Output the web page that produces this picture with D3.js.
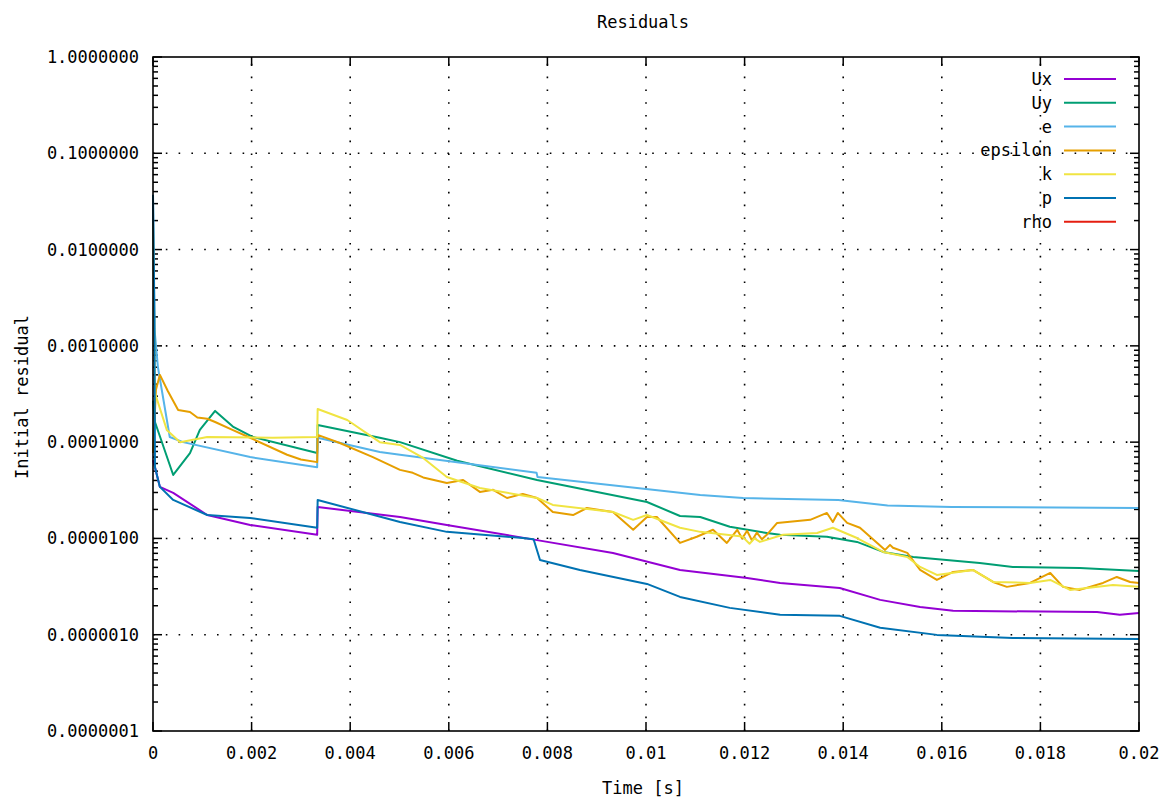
<!DOCTYPE html>
<html lang="en">
<head>
  <meta charset="UTF-8">
  <title>Residuals</title>
  <script src="https://d3js.org/d3.v7.min.js"></script>
  <style>
    body { margin: 0; background: #fff; }
    text { font-family: "DejaVu Sans Mono", "Liberation Mono", monospace; font-size: 17px; fill: #000; }
  </style>
</head>
<body>
  <svg id="chart" width="1173" height="800"></svg>

  <script>
    // time [s], initial residual
    const Ux = [[0, 6.5e-5], [0.00004, 5.5e-5], [0.00014, 3.43e-5], [0.00041, 2.97e-5], [0.0011, 1.75e-5],
      [0.00197, 1.38e-5], [0.00333, 1.09e-5], [0.00334, 2.12e-5], [0.00501, 1.67e-5], [0.00596, 1.38e-5],
      [0.00779, 9.6e-6], [0.00933, 7.07e-6], [0.01069, 4.71e-6], [0.01205, 3.89e-6], [0.01272, 3.45e-6],
      [0.01393, 3.06e-6], [0.01475, 2.3e-6], [0.01556, 1.94e-6], [0.01623, 1.77e-6], [0.01915, 1.72e-6],
      [0.01961, 1.61e-6], [0.02, 1.68e-6]];
    const Uy = [[0, 2.7e-4], [0.00004, 1.62e-4], [0.00041, 4.56e-5], [0.00075, 7.7e-5], [0.00095, 1.34e-4],
      [0.00126, 2.11e-4], [0.00162, 1.45e-4], [0.00203, 1.13e-4], [0.00333, 7.7e-5], [0.00334, 1.51e-4],
      [0.0046, 1.11e-4], [0.00501, 1.0e-4], [0.00617, 6.4e-5], [0.00779, 4.05e-5], [0.01002, 2.39e-5],
      [0.01069, 1.71e-5], [0.0111, 1.67e-5], [0.0117, 1.32e-5], [0.01245, 1.14e-5], [0.01272, 1.09e-5],
      [0.01367, 1.04e-5], [0.01428, 9.2e-6], [0.01481, 7.24e-6], [0.01542, 6.42e-6], [0.01677, 5.57e-6],
      [0.01744, 5.06e-6], [0.0188, 4.94e-6], [0.02, 4.6e-6]];
    const e = [[0, 0.033], [0.00003, 1.5e-3], [0.0001, 6.0e-4], [0.00034, 1.13e-4], [0.00061, 1.0e-4],
      [0.00197, 7.0e-5], [0.00333, 5.5e-5], [0.00334, 1.11e-4], [0.0046, 7.9e-5], [0.00501, 7.4e-5],
      [0.00778, 4.8e-5], [0.0078, 4.35e-5], [0.0111, 2.83e-5], [0.01197, 2.63e-5], [0.0139, 2.51e-5],
      [0.0149, 2.2e-5], [0.0162, 2.12e-5], [0.02, 2.07e-5]];
    const epsilon = [[0, 7.7e-5], [0.00006, 3.5e-4], [0.00014, 5.0e-4], [0.0003, 3.4e-4], [0.00051, 2.16e-4],
      [0.00075, 2.06e-4], [0.0009, 1.8e-4], [0.0011, 1.75e-4], [0.00126, 1.62e-4], [0.0016, 1.35e-4],
      [0.00197, 1.11e-4], [0.00272, 7.4e-5], [0.003, 6.6e-5], [0.00333, 6.2e-5], [0.00334, 1.19e-4],
      [0.00379, 9.8e-5], [0.00446, 7.0e-5], [0.00501, 5.15e-5], [0.00527, 4.8e-5], [0.00548, 4.3e-5],
      [0.00596, 3.77e-5], [0.00629, 4.05e-5], [0.00663, 3.04e-5], [0.0069, 3.2e-5], [0.00718, 2.63e-5],
      [0.0075, 2.9e-5], [0.00779, 2.63e-5], [0.00811, 1.88e-5], [0.00852, 1.75e-5], [0.0088, 2.07e-5],
      [0.00933, 1.88e-5], [0.00974, 1.23e-5], [0.01002, 1.67e-5], [0.01022, 1.67e-5], [0.01069, 8.98e-6],
      [0.01103, 1.04e-5], [0.01136, 1.23e-5], [0.01164, 8.98e-6], [0.01185, 1.23e-5], [0.01195, 1.0e-5],
      [0.01205, 1.2e-5], [0.01215, 9.5e-6], [0.01225, 1.15e-5], [0.01235, 9.8e-6], [0.01245, 1.09e-5],
      [0.01266, 1.45e-5], [0.01333, 1.56e-5], [0.01367, 1.84e-5], [0.01379, 1.48e-5], [0.01389, 1.84e-5],
      [0.01408, 1.45e-5], [0.01434, 1.29e-5], [0.01469, 8.98e-6], [0.01485, 7.6e-6], [0.01495, 8.57e-6],
      [0.01501, 8.0e-6], [0.0153, 7.07e-6], [0.01556, 4.71e-6], [0.0159, 3.71e-6], [0.01623, 4.49e-6],
      [0.01663, 4.71e-6], [0.01704, 3.53e-6], [0.01732, 3.14e-6], [0.01779, 3.45e-6], [0.0182, 4.38e-6],
      [0.01846, 3.14e-6], [0.0188, 2.92e-6], [0.01927, 3.45e-6], [0.01955, 3.98e-6], [0.01982, 3.53e-6],
      [0.02, 3.45e-6]];
    const k = [[0, 0.019], [0.00002, 3.0e-3], [0.00004, 3.24e-4], [0.00028, 1.34e-4], [0.00055, 1.0e-4],
      [0.0011, 1.13e-4], [0.00243, 1.11e-4], [0.00333, 1.13e-4], [0.00334, 2.21e-4], [0.00394, 1.7e-4],
      [0.0046, 1.0e-4], [0.00501, 9.35e-5], [0.00548, 6.85e-5], [0.00596, 4.35e-5], [0.00663, 3.34e-5],
      [0.00779, 2.63e-5], [0.00811, 2.23e-5], [0.00933, 1.88e-5], [0.00974, 1.56e-5], [0.01002, 1.75e-5],
      [0.01069, 1.29e-5], [0.0111, 1.17e-5], [0.01195, 1.05e-5], [0.0121, 8.8e-6], [0.0122, 1.0e-5],
      [0.01231, 9.2e-6], [0.01278, 1.09e-5], [0.01347, 1.14e-5],
      [0.01379, 1.29e-5], [0.01428, 1.01e-5], [0.01481, 7.24e-6], [0.0153, 6.42e-6], [0.01556, 5.06e-6],
      [0.0159, 4.18e-6], [0.01663, 4.71e-6], [0.01704, 3.53e-6], [0.01779, 3.45e-6], [0.0182, 3.71e-6],
      [0.0186, 2.92e-6], [0.01947, 3.29e-6], [0.02, 3.14e-6]];
    const p = [[0, 0.037], [0.00003, 2.0e-3], [0.00004, 5.5e-5], [0.00014, 3.43e-5], [0.00041, 2.51e-5],
      [0.0011, 1.75e-5], [0.00197, 1.63e-5], [0.00333, 1.29e-5], [0.00334, 2.51e-5], [0.00501, 1.48e-5],
      [0.00596, 1.17e-5], [0.0075, 1.01e-5], [0.00772, 9.8e-6], [0.00785, 5.98e-6], [0.00866, 4.71e-6],
      [0.01002, 3.37e-6], [0.01069, 2.47e-6], [0.0117, 1.9e-6], [0.01272, 1.61e-6], [0.01393, 1.57e-6],
      [0.01475, 1.18e-6], [0.0159, 9.96e-7], [0.01744, 9.27e-7], [0.02, 9.04e-7]];
    const rho = [];

    const seriesNames = ['Ux', 'Uy', 'e', 'epsilon', 'k', 'p', 'rho'];
    const seriesData = [Ux, Uy, e, epsilon, k, p, rho];
    const colors = ['#9400d3', '#009e73', '#56b4e9', '#e69f00', '#f0e442', '#0072b2', '#e51e10'];

    const xTicks = [0, 0.002, 0.004, 0.006, 0.008, 0.01, 0.012, 0.014, 0.016, 0.018, 0.02];
    const yTicks = [1e-7, 1e-6, 1e-5, 1e-4, 1e-3, 1e-2, 1e-1, 1];

    const plotL = 153, plotR = 1139, plotT = 57, plotB = 731;
    const svg = d3.select('#chart');

    const x = d3.scaleLinear().domain([0, 0.02]).range([plotL, plotR]);
    const y = d3.scaleLog().domain([1e-7, 1]).range([plotB, plotT]);

    // grid
    const grid = svg.append('g')
      .attr('stroke', '#000')
      .attr('stroke-width', 1.6)
      .attr('stroke-dasharray', '1.6,11.2');
    grid.selectAll('line.gx').data(xTicks.slice(1, -1)).enter().append('line')
      .attr('x1', d => x(d)).attr('x2', d => x(d))
      .attr('y1', plotB).attr('y2', plotT);
    grid.selectAll('line.gy').data(yTicks.slice(1, -1)).enter().append('line')
      .attr('x1', plotL).attr('x2', plotR)
      .attr('y1', d => y(d)).attr('y2', d => y(d));

    // minor log ticks + mirrored major ticks
    const minor = y.ticks().filter(v => yTicks.indexOf(v) < 0);
    const tickG = svg.append('g').attr('stroke', '#000').attr('stroke-width', 1.5);
    tickG.selectAll('line.ml').data(minor).enter().append('line')
      .attr('x1', plotL).attr('x2', plotL + 5)
      .attr('y1', d => y(d)).attr('y2', d => y(d));
    tickG.selectAll('line.mr').data(minor).enter().append('line')
      .attr('x1', plotR).attr('x2', plotR - 5)
      .attr('y1', d => y(d)).attr('y2', d => y(d));
    tickG.selectAll('line.Ml').data(yTicks).enter().append('line')
      .attr('x1', plotL).attr('x2', plotL + 9)
      .attr('y1', d => y(d)).attr('y2', d => y(d));
    tickG.selectAll('line.Mr').data(yTicks).enter().append('line')
      .attr('x1', plotR).attr('x2', plotR - 9)
      .attr('y1', d => y(d)).attr('y2', d => y(d));
    tickG.selectAll('line.Mb').data(xTicks).enter().append('line')
      .attr('x1', d => x(d)).attr('x2', d => x(d))
      .attr('y1', plotB).attr('y2', plotB - 9);
    tickG.selectAll('line.Mt').data(xTicks).enter().append('line')
      .attr('x1', d => x(d)).attr('x2', d => x(d))
      .attr('y1', plotT).attr('y2', plotT + 9);

    // series
    const line = d3.line().x(d => x(d[0])).y(d => y(d[1]));
    svg.append('g').selectAll('path').data(seriesData).enter().append('path')
      .attr('d', d => d.length ? line(d) : null)
      .attr('fill', 'none')
      .attr('stroke', (d, i) => colors[i])
      .attr('stroke-width', 2)
      .attr('stroke-linejoin', 'round');

    // border
    svg.append('rect')
      .attr('x', plotL).attr('y', plotT)
      .attr('width', plotR - plotL).attr('height', plotB - plotT)
      .attr('fill', 'none').attr('stroke', '#000').attr('stroke-width', 1.6);

    // tick labels
    svg.append('g').selectAll('text').data(yTicks).enter().append('text')
      .attr('x', plotL - 14).attr('y', d => y(d) + 6)
      .attr('text-anchor', 'end')
      .text(d => d3.format('.7f')(d));
    svg.append('g').selectAll('text').data(xTicks).enter().append('text')
      .attr('x', d => x(d)).attr('y', plotB + 28)
      .attr('text-anchor', 'middle')
      .text(d => d === 0 ? '0' : d3.format('~g')(d));

    // titles
    svg.append('text').attr('x', 643).attr('y', 28).attr('text-anchor', 'middle').text('Residuals');
    svg.append('text').attr('x', 643).attr('y', 794).attr('text-anchor', 'middle').text('Time [s]');
    svg.append('text')
      .attr('transform', 'translate(28,397) rotate(-90)')
      .attr('text-anchor', 'middle')
      .text('Initial residual');

    // legend
    const legend = svg.append('g').selectAll('g').data(seriesNames).enter().append('g')
      .attr('transform', (d, i) => `translate(0,${79 + i * 23.8})`);
    legend.append('text').attr('x', 1052).attr('y', 6).attr('text-anchor', 'end').text(d => d);
    legend.append('line')
      .attr('x1', 1064).attr('x2', 1116)
      .attr('stroke', (d, i) => colors[i]).attr('stroke-width', 2);
  </script>
</body>
</html>
